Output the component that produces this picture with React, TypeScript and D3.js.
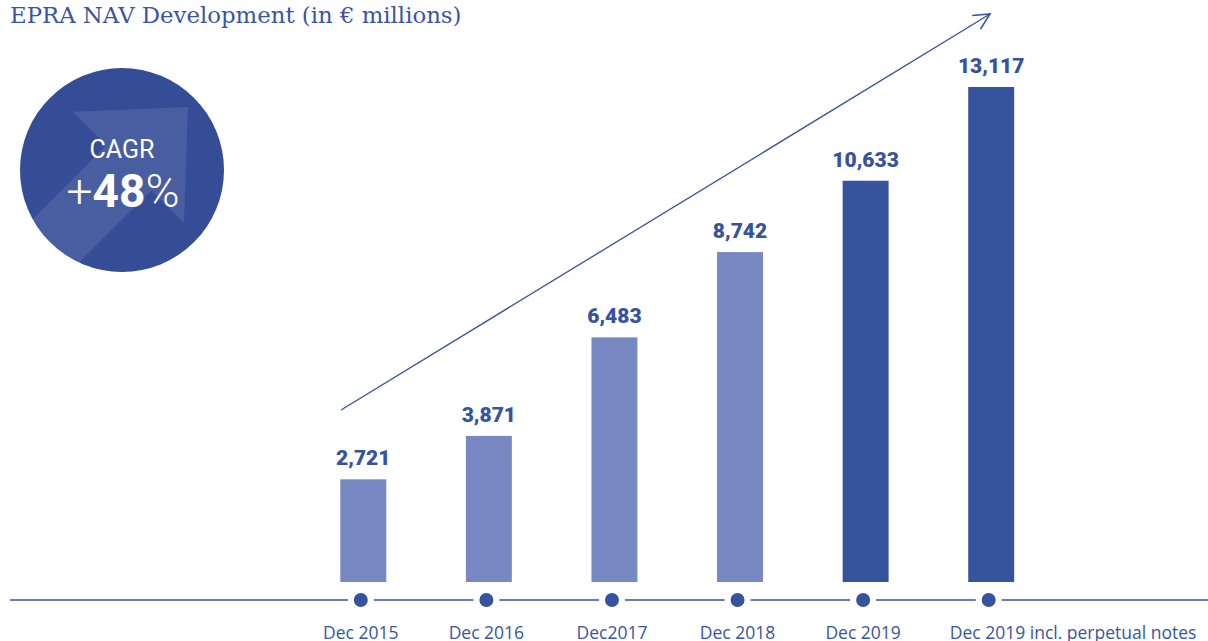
import React from "react";
import * as d3 from "d3";

const categories = ["Dec 2015", "Dec 2016", "Dec2017", "Dec 2018", "Dec 2019", "Dec 2019 incl. perpetual notes"];
const values = [2721, 3871, 6483, 8742, 10633, 13117];
const highlighted = [false, false, false, false, true, true];
const title = "EPRA NAV Development (in € millions)";
const cagrLabel = "CAGR";
const cagrValue = "48";

const W = 1208, H = 641;
const LIGHT = "#7788c2";
const DARK = "#36539e";
const TEXT = "#3a55a0";

export default function App() {
  const x = d3.scaleBand<string>().domain(categories).range([300.5, 1054]).paddingInner(0.634).paddingOuter(0.317);
  const y = d3.scaleLinear().domain([0, 13117]).range([582, 87]);
  const fmt = d3.format(",");
  const bw = x.bandwidth();
  const cx = (c: string) => (x(c) as number) + bw / 2;
  const dx = (c: string) => cx(c) - 2.5;

  return (
    <svg width={W} height={H} style={{ position: "absolute", left: 0, top: 0 }}>
      <defs>
        <clipPath id="circ"><circle cx={122} cy={170} r={102} /></clipPath>
        <marker id="ah" viewBox="0 0 20 20" refX={18} refY={10} markerWidth={20} markerHeight={20} markerUnits="userSpaceOnUse" orient="auto">
          <path d="M2,2 L18,10 L2,18" fill="none" stroke={DARK} strokeWidth={1.6} />
        </marker>
      </defs>
      <text x={10} y={23} fontFamily="'DejaVu Serif', 'Liberation Serif', serif" fontSize={22.8} fill={TEXT}>{title}</text>

      <circle cx={122} cy={170} r={102} fill="#354c96" />
      <g clipPath="url(#circ)" fill="#ffffff" fillOpacity={0.1}>
        <path d="M72.7,111.7 L188,107 L184,223 L151.4,190.4 L40,301.7 L-50,301.7 L106.3,145.3 Z" />
      </g>
      <text x={122} y={158} textAnchor="middle" fontFamily="Roboto, sans-serif" fontSize={25} fill="#fff">{cagrLabel}</text>
      <text x={123} y={207} textAnchor="middle" fontFamily="Roboto, sans-serif" fontSize={46} fill="#fff">
        <tspan fontWeight={300}>+</tspan><tspan fontWeight={700}>{cagrValue}</tspan><tspan fontWeight={300}>%</tspan>
      </text>

      <line x1={341} y1={410} x2={990} y2={14} stroke={DARK} strokeWidth={1.3} markerEnd="url(#ah)" />

      {categories.map((c, i) => (
        <g key={c}>
          <rect x={x(c)} y={y(values[i])} width={bw} height={y(0) - y(values[i])} fill={highlighted[i] ? DARK : LIGHT} />
          <text x={cx(c)} y={y(values[i]) - 14} textAnchor="middle" fontFamily="Roboto, sans-serif" fontWeight={900} fontSize={21} fill={DARK}>{fmt(values[i])}</text>
        </g>
      ))}

      <line x1={10} y1={600} x2={1208} y2={600} stroke={DARK} strokeWidth={1.3} />
      {categories.map((c, i) => (
        <g key={"d" + c}>
          <circle cx={dx(c)} cy={600} r={13} fill="#fff" />
          <circle cx={dx(c)} cy={600} r={7} fill={DARK} />
          <text x={i === categories.length - 1 ? dx(c) - 39 : dx(c)} y={639} textAnchor={i === categories.length - 1 ? "start" : "middle"} fontFamily="'Open Sans', sans-serif" fontSize={17.5} fill={TEXT}>{c}</text>
        </g>
      ))}
    </svg>
  );
}
